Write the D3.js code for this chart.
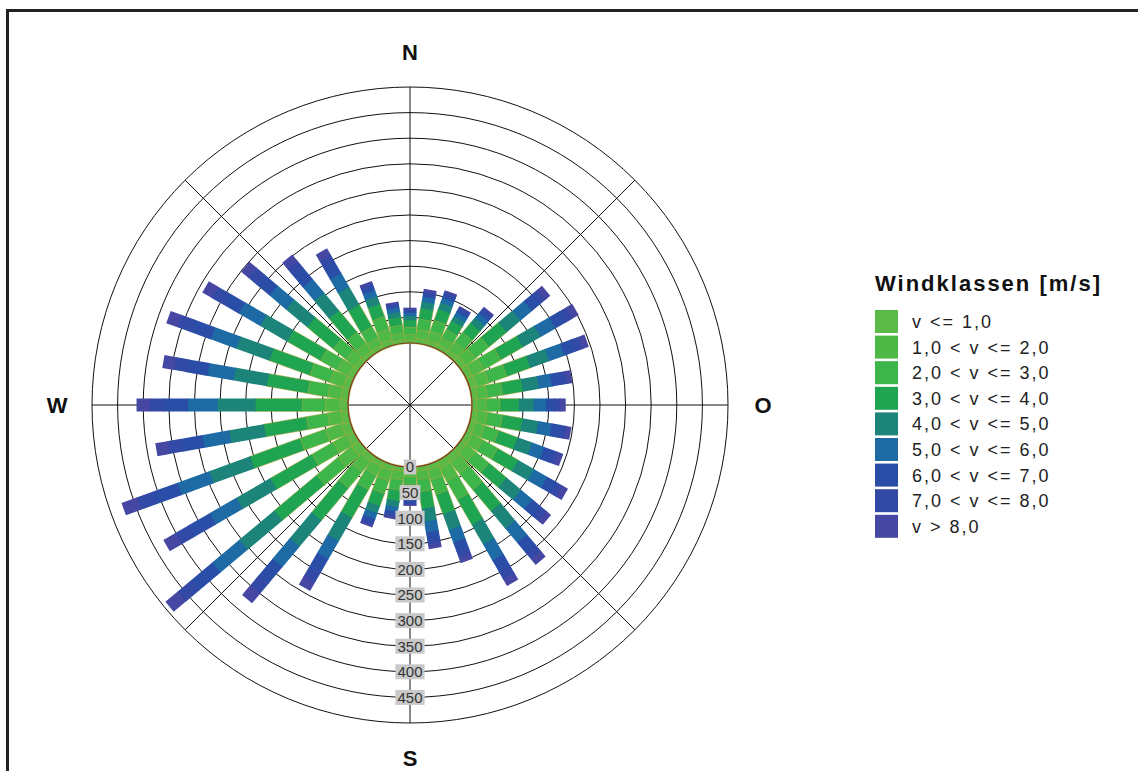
<!DOCTYPE html>
<html>
<head>
<meta charset="utf-8">
<script src="https://cdn.jsdelivr.net/npm/d3@7"></script>
<style>
  body { margin: 0; background: #fff; }
  svg { display: block; }
</style>
</head>
<body>
<div id="rose"></div>
<script>
// wind direction sectors (degrees from north, clockwise)
const directions = [0, 10, 20, 30, 40, 50, 60, 70, 80, 90, 100, 110, 120, 130, 140, 150, 160, 170,
                    180, 190, 200, 210, 220, 230, 240, 250, 260, 270, 280, 290, 300, 310, 320, 330, 340, 350];

const classLabels = ["v <= 1,0", "1,0 < v <= 2,0", "2,0 < v <= 3,0", "3,0 < v <= 4,0", "4,0 < v <= 5,0",
                     "5,0 < v <= 6,0", "6,0 < v <= 7,0", "7,0 < v <= 8,0", "v > 8,0"];
const classColors = ["#5bb947", "#4fb947", "#3cb54a", "#1fa552", "#1c8479",
                     "#1d6aa5", "#2a4ea8", "#3249a5", "#4646a3"];

// counts per wind class, one value per direction sector
const cls1 = [7, 11, 11, 10, 12, 14, 15, 15, 12, 11, 12, 12, 14, 14, 17, 17, 12, 10, 8, 10, 13, 12, 15, 20, 17, 19, 15, 17, 15, 15, 14, 12, 10, 9, 13, 8];
const cls2 = [11, 17, 18, 15, 19, 23, 25, 25, 20, 18, 20, 19, 23, 23, 28, 28, 20, 16, 12, 17, 21, 20, 26, 34, 30, 33, 27, 29, 26, 27, 24, 21, 18, 16, 21, 13];
const cls3 = [14, 21, 23, 19, 24, 34, 38, 37, 30, 27, 30, 29, 34, 34, 41, 42, 30, 25, 15, 21, 26, 32, 41, 54, 47, 52, 42, 45, 40, 42, 37, 33, 28, 25, 26, 16];
const cls4 = [14, 21, 23, 19, 24, 45, 50, 49, 40, 37, 39, 39, 46, 45, 55, 56, 41, 33, 15, 21, 26, 64, 82, 108, 94, 104, 84, 91, 81, 84, 75, 66, 55, 50, 26, 16];
const cls5 = [8, 13, 14, 11, 14, 36, 40, 39, 32, 29, 32, 31, 36, 37, 44, 45, 33, 26, 9, 12, 15, 52, 67, 89, 77, 85, 69, 74, 66, 69, 61, 54, 45, 40, 16, 10];
const cls6 = [6, 10, 10, 9, 11, 29, 33, 32, 26, 24, 26, 25, 30, 29, 36, 36, 26, 21, 7, 9, 12, 41, 52, 69, 60, 66, 53, 58, 52, 53, 48, 42, 35, 31, 12, 8];
const cls7 = [4, 6, 7, 6, 7, 20, 23, 22, 18, 16, 18, 17, 21, 21, 25, 25, 18, 15, 5, 6, 8, 32, 41, 54, 47, 52, 42, 45, 40, 42, 37, 33, 28, 25, 8, 5];
const cls8 = [3, 4, 4, 4, 5, 14, 15, 15, 12, 11, 11, 12, 13, 14, 17, 17, 13, 9, 3, 5, 5, 20, 27, 34, 30, 33, 27, 29, 26, 27, 24, 21, 18, 16, 6, 4];
const cls9 = [2, 4, 3, 2, 3, 11, 13, 12, 9, 10, 9, 9, 11, 11, 13, 14, 10, 8, 2, 3, 3, 18, 23, 30, 26, 30, 23, 25, 22, 22, 20, 17, 15, 13, 4, 2];

const radialTicks = [0, 50, 100, 150, 200, 250, 300, 350, 400, 450];
const gridRings = [50, 100, 150, 200, 250, 300, 350, 400, 450, 500];
const compassLabels = ["N", "O", "S", "W"];
const compassAngles = [0, 90, 180, 270];
const spokeAngles = [0, 45, 90, 135, 180, 225, 270, 315];

const width = 1138, height = 771;
const cx = 410, cy = 405;
const barWidth = 13;

const classes = [cls1, cls2, cls3, cls4, cls5, cls6, cls7, cls8, cls9];
const keys = classLabels;
const rows = directions.map((dir, i) => {
    const row = { dir: dir };
    keys.forEach((k, j) => { row[k] = classes[j][i]; });
    return row;
});
const series = d3.stack().keys(keys)(rows);

const r = d3.scaleLinear().domain([0, 500]).range([62, 318]);

const svg = d3.select("#rose")
    .append("svg")
    .attr("width", width)
    .attr("height", height)
    .style("font-family", "'Liberation Sans', Arial, sans-serif");

// frame
svg.append("path")
    .attr("d", `M7.5,${height} V10.5 H${width}`)
    .attr("fill", "none")
    .attr("stroke", "#222")
    .attr("stroke-width", 3);

const g = svg.append("g").attr("transform", `translate(${cx},${cy})`);

// grid rings and spokes
g.selectAll("circle.ring")
    .data(gridRings)
    .enter()
    .append("circle")
    .attr("class", "ring")
    .attr("r", d => r(d))
    .attr("fill", "none")
    .attr("stroke", "#111")
    .attr("stroke-width", 1);

g.selectAll("line.spoke")
    .data(spokeAngles)
    .enter()
    .append("line")
    .attr("class", "spoke")
    .attr("x1", 0).attr("y1", 0)
    .attr("x2", d => Math.sin(d * Math.PI / 180) * r(500))
    .attr("y2", d => -Math.cos(d * Math.PI / 180) * r(500))
    .attr("stroke", "#111")
    .attr("stroke-width", 1);

// stacked bars (each segment overlaps the next slightly to hide seams)
const layers = g.selectAll("g.layer")
    .data(series)
    .enter()
    .append("g")
    .attr("class", "layer")
    .attr("fill", (d, i) => classColors[i]);

layers.selectAll("rect")
    .data((d, i) => d.map(p => Object.assign(p, { cls: i })))
    .enter()
    .append("rect")
    .attr("transform", d => `rotate(${d.data.dir})`)
    .attr("x", -barWidth / 2)
    .attr("width", barWidth)
    .attr("y", d => -r(d[1]))
    .attr("height", d => r(d[1]) - r(d[0]) + (d.cls < 8 ? 0 : 0) + 0.8)
    .attr("stroke", d => d.cls < 4 ? "#c4a23a" : "none")
    .attr("stroke-width", 0.6)
    .attr("stroke-opacity", 0.7);

// inner hole edge
g.append("circle")
    .attr("r", r(0))
    .attr("fill", "none")
    .attr("stroke", "#8a3424")
    .attr("stroke-width", 1.2);

// radial tick labels along the south axis
const tick = g.selectAll("g.tick")
    .data(radialTicks)
    .enter()
    .append("g")
    .attr("class", "tick")
    .attr("transform", d => `translate(0,${r(d)})`);

tick.append("rect")
    .attr("x", d => -(String(d).length * 8.4 + 4) / 2)
    .attr("y", -7.5)
    .attr("width", d => String(d).length * 8.4 + 4)
    .attr("height", 15)
    .attr("fill", "#c9c9c9");

tick.append("text")
    .attr("text-anchor", "middle")
    .attr("dy", "0.36em")
    .style("font-size", "15px")
    .attr("fill", "#333")
    .text(d => d);

// compass letters
g.selectAll("text.compass")
    .data(compassLabels)
    .enter()
    .append("text")
    .attr("class", "compass")
    .attr("x", (d, i) => Math.sin(compassAngles[i] * Math.PI / 180) * 353)
    .attr("y", (d, i) => -Math.cos(compassAngles[i] * Math.PI / 180) * 353)
    .attr("text-anchor", "middle")
    .attr("dy", "0.36em")
    .style("font-size", "22px")
    .style("font-weight", "bold")
    .attr("fill", "#111")
    .text(d => d);

// legend
const legend = svg.append("g").attr("transform", "translate(875,0)");

legend.append("text")
    .attr("x", 0)
    .attr("y", 291)
    .style("font-size", "22px")
    .style("font-weight", "bold")
    .style("letter-spacing", "2px")
    .attr("fill", "#111")
    .text("Windklassen [m/s]");

const item = legend.selectAll("g.item")
    .data(classLabels)
    .enter()
    .append("g")
    .attr("class", "item")
    .attr("transform", (d, i) => `translate(0,${310 + i * 25.6})`);

item.append("rect")
    .attr("width", 23)
    .attr("height", 23)
    .attr("fill", (d, i) => classColors[i]);

item.append("text")
    .attr("x", 37)
    .attr("y", 11.5)
    .attr("dy", "0.36em")
    .style("font-size", "18px")
    .style("letter-spacing", "2px")
    .attr("fill", "#222")
    .text(d => d);
</script>
</body>
</html>
